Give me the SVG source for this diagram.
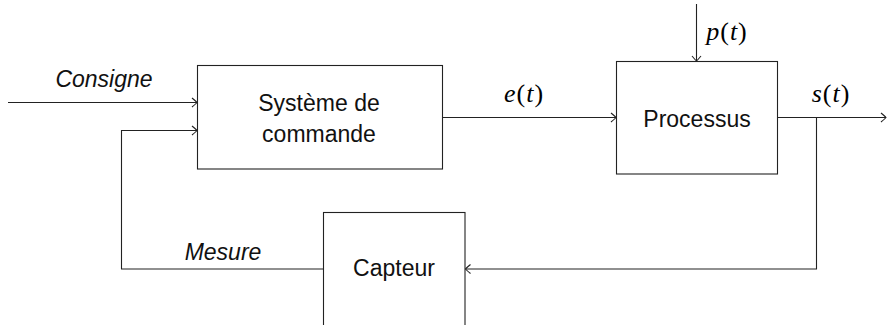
<svg xmlns="http://www.w3.org/2000/svg" width="891" height="325" viewBox="0 0 891 325">
<style>
.box{fill:#fff;stroke:#222;stroke-width:1.1}
.wire{fill:none;stroke:#222;stroke-width:1.1}
.lbl{font-family:"Liberation Sans",Arial,sans-serif;font-size:23px;fill:#111;text-anchor:middle}
.it{font-style:italic}
.math{font-family:"Liberation Serif","Times New Roman",serif;font-size:26px;fill:#000;text-anchor:middle;letter-spacing:1px}
</style>
<defs>
<marker id="arr" markerUnits="userSpaceOnUse" markerWidth="12" markerHeight="12" viewBox="-8 -6 10 12" refX="0" refY="0" orient="auto">
<path d="M -5 -4.5 Q -1 -1.2 0 0 Q -1 1.2 -5 4.5" fill="none" stroke="#222" stroke-width="1.1"/>
</marker>
</defs>
<g id="connectors">
<path class="wire" d="M 8 102.5 H 197" marker-end="url(#arr)"/>
<path class="wire" d="M 323.5 269 H 121.5 V 130.5 H 197" marker-end="url(#arr)"/>
<path class="wire" d="M 442.5 117.5 H 616" marker-end="url(#arr)"/>
<path class="wire" d="M 696.5 4 V 61" marker-end="url(#arr)"/>
<path class="wire" d="M 777 117.5 H 886" marker-end="url(#arr)"/>
<path class="wire" d="M 816.5 117.5 V 269 H 465.5" marker-end="url(#arr)"/>
<text class="lbl it" x="104" y="87">Consigne</text>
<text class="lbl it" x="223" y="260">Mesure</text>
<text class="math" x="524" y="102"><tspan font-style="italic">e</tspan>(<tspan font-style="italic">t</tspan>)</text>
<text class="math" x="727" y="40"><tspan font-style="italic">p</tspan>(<tspan font-style="italic">t</tspan>)</text>
<text class="math" x="831" y="102"><tspan font-style="italic">s</tspan>(<tspan font-style="italic">t</tspan>)</text>
</g>
<g id="systeme">
<rect class="box" x="197.5" y="65.5" width="245" height="103.5"/>
<text class="lbl" x="319" y="111">Système de</text>
<text class="lbl" x="319" y="142">commande</text>
</g>
<g id="processus">
<rect class="box" x="616.5" y="61.5" width="161" height="112.5"/>
<text class="lbl" x="697" y="127">Processus</text>
</g>
<g id="capteur">
<rect class="box" x="323.5" y="212.5" width="141.5" height="130"/>
<text class="lbl" x="394" y="276">Capteur</text>
</g>
</svg>
